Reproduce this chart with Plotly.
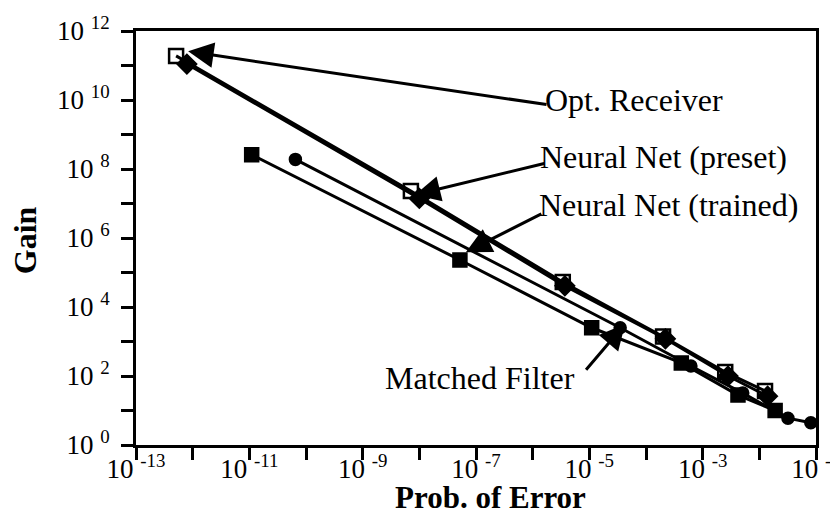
import plotly.graph_objects as go

# ---- data ----
opt_x = [5.1e-13, 7.1e-9, 3.4e-6, 2.0e-4, 2.5e-3, 1.26e-2]
opt_y = [1.9e11, 2.3e7, 5.3e4, 1.4e3, 130, 37]

preset_x = [7.9e-13, 1.0e-8, 3.7e-6, 2.2e-4, 2.8e-3, 1.4e-2]
preset_y = [1.1e11, 1.4e7, 4.1e4, 1.2e3, 100, 26]

trained_x = [6.5e-11, 3.5e-5, 6.2e-4, 5.1e-3, 3.2e-2, 8.1e-2]
trained_y = [1.9e8, 2.5e3, 195, 32, 6.0, 4.4]

matched_x = [1.1e-11, 5.2e-8, 1.1e-5, 4.2e-4, 4.2e-3, 1.9e-2]
matched_y = [2.6e8, 2.3e5, 2.5e3, 240, 28, 10]

x_exps = list(range(-13, 0))
y_exps = list(range(0, 13))
x_ticktext = [f"10 <sup>{e}</sup>" if e % 2 != 0 else "" for e in x_exps]
y_ticktext = [f"10 <sup>{e}</sup>" if e % 2 == 0 else "" for e in y_exps]

FONT = "Liberation Serif"

fig = go.Figure()

def add_series(x, y, name, symbol, size):
    fig.add_trace(go.Scatter(
        x=x, y=y, name=name, mode="lines+markers",
        line=dict(color="black", width=3),
        marker=dict(symbol=symbol, size=size, color="black",
                    line=dict(color="black", width=2.5)),
        showlegend=False,
    ))

add_series(opt_x, opt_y, "Opt. Receiver", "square-open", 14)
add_series(preset_x, preset_y, "Neural Net (preset)", "diamond", 14)
add_series(trained_x, trained_y, "Neural Net (trained)", "circle", 11)
add_series(matched_x, matched_y, "Matched Filter", "square", 13)

# arrows (tip, tail) in log10 axis units
arrows = [
    ((-12.08, 11.41), (-5.73, 9.86)),
    ((-8.08, 7.25), (-5.77, 8.17)),
    ((-7.18, 5.59), (-5.82, 6.72)),
    ((-4.37, 3.51), (-5.08, 2.14)),
]
for (tx, ty), (sx, sy) in arrows:
    fig.add_annotation(x=tx, y=ty, ax=sx, ay=sy, axref="x", ayref="y",
                       xref="x", yref="y", text="", showarrow=True,
                       arrowhead=2, arrowsize=1.7, arrowwidth=3,
                       arrowcolor="black")

labels = [
    ("Opt. Receiver", -5.82, 10.0),
    ("Neural Net (preset)", -5.90, 8.35),
    ("Neural Net (trained)", -5.92, 6.95),
    ("Matched Filter", -8.64, 1.94),
]
for txt, lx, ly in labels:
    fig.add_annotation(x=lx, y=ly, xref="x", yref="y", text=txt,
                       showarrow=False, xanchor="left", yanchor="middle",
                       font=dict(family=FONT, size=32, color="black"))

# axis titles placed as in the reference
fig.add_annotation(x=0.522, y=-0.128, xref="paper", yref="paper",
                   text="<b>Prob. of Error</b>", showarrow=False,
                   xanchor="center", yanchor="middle",
                   font=dict(family=FONT, size=31, color="black"))
fig.add_annotation(x=-0.163, y=0.495, xref="paper", yref="paper",
                   text="<b>Gain</b>", showarrow=False, textangle=-90,
                   xanchor="center", yanchor="middle",
                   font=dict(family=FONT, size=32, color="black"))

axis_common = dict(
    type="log", showgrid=False, zeroline=False, automargin=False,
    showline=True, linecolor="black", linewidth=3, mirror=True,
    ticks="outside", ticklen=12, tickwidth=3, tickcolor="black",
    tickfont=dict(family=FONT, size=27, color="black"),
)

fig.update_xaxes(
    range=[-13, -1], tickvals=[10.0 ** e for e in x_exps], ticktext=x_ticktext,
    ticklabelstandoff=-14,
    **axis_common,
)
fig.update_yaxes(
    range=[0, 12], tickvals=[10.0 ** e for e in y_exps], ticktext=y_ticktext,
    ticklabelstandoff=6,
    **axis_common,
)

fig.update_layout(
    width=838, height=515,
    margin=dict(l=128, r=30, t=23, b=78),
    paper_bgcolor="white", plot_bgcolor="white",
)

fig.write_html("out.html")
